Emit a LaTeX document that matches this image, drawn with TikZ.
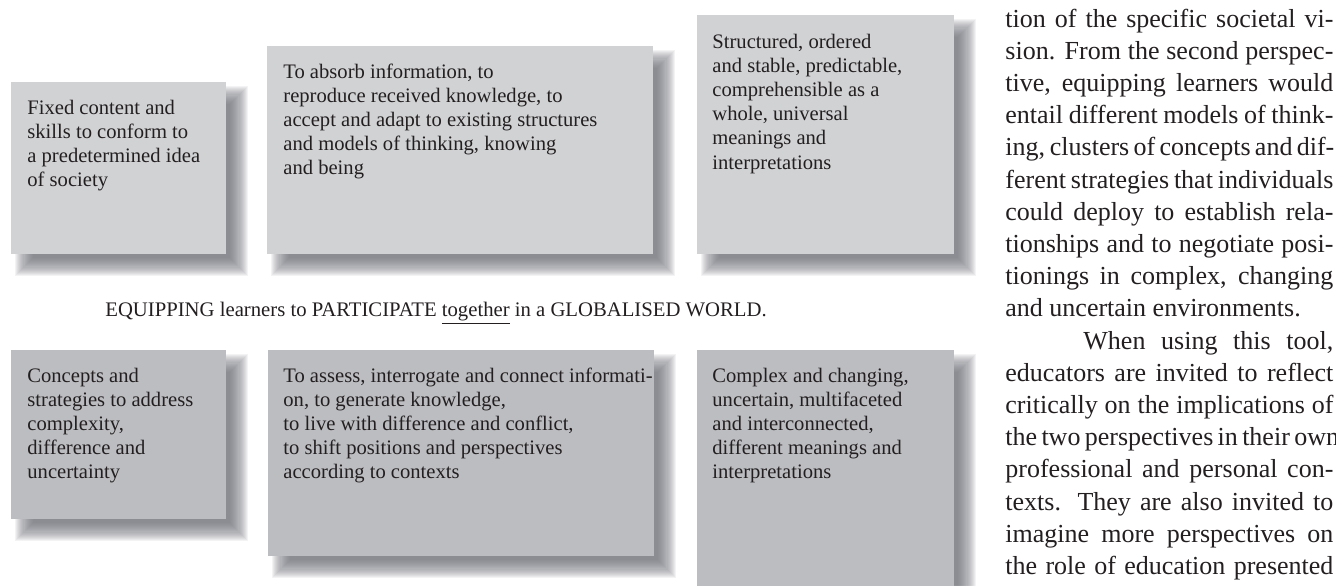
\documentclass[tikz,border=0pt]{standalone}
\usepackage{fontspec}
\setmainfont{Liberation Serif}
\pgfdeclarelayer{paper}
\pgfdeclarelayer{shade}
\pgfsetlayers{paper,shade,main}
\definecolor{boxtop}{RGB}{209,210,212}
\definecolor{boxbot}{RGB}{188,189,193}
\definecolor{shadowgray}{RGB}{112,114,121}
\definecolor{ink}{RGB}{35,31,32}
\tikzset{
  panel/.style={anchor=north west, inner sep=0pt, outer sep=0pt, draw=none},
  toppanel/.style={panel, fill=boxtop},
  botpanel/.style={panel, fill=boxbot},
  boxtext/.style={anchor=base west, inner sep=0pt, text=ink, font=\fontsize{10.3}{12.1}\selectfont},
  coltext/.style={anchor=base west, inner sep=0pt, text=ink, font=\fontsize{13}{16.1}\selectfont},
  headtext/.style={anchor=base west, inner sep=0pt, text=ink, font=\fontsize{10.35}{12.1}\selectfont},
}
\newcommand{\jline}[1]{\makebox[164pt][s]{#1}}
\newcommand{\boxpar}[1]{\parbox[t]{220pt}{\raggedright #1}}
\begin{document}
\begin{tikzpicture}[x=0.5pt,y=-0.5pt]
\useasboundingbox (0,0) rectangle (1336,585);
\clip (0,0) rectangle (1336,585);
\begin{pgfonlayer}{paper}
\fill[white] (0,0) rectangle (1336,585);
\end{pgfonlayer}

% panels
\node[toppanel, minimum width=107.5pt, minimum height=86pt]  (b1) at (11,82) {};
\node[toppanel, minimum width=193pt,   minimum height=104pt] (b2) at (267,46) {};
\node[toppanel, minimum width=128.5pt, minimum height=119.5pt] (b3) at (697,15) {};
\node[botpanel, minimum width=107.5pt, minimum height=84.5pt] (b4) at (11,350) {};
\node[botpanel, minimum width=193pt,   minimum height=103pt] (b5) at (268,350) {};
\node[botpanel, minimum width=128.5pt, minimum height=125pt] (b6) at (697,350) {};

% soft shadows (layered to fake a blur)
\begin{pgfonlayer}{shade}
\foreach \b in {b1,b2,b3,b4,b5,b6}{
  \foreach \i in {0,...,17}{
    \pgfmathsetmacro{\lo}{13-(9-18*\i/17)}
    \pgfmathsetmacro{\hi}{13+(9-18*\i/17)}
    \fill[shadowgray, opacity=0.08]
      ([shift={(\lo,\lo)}]\b.north west) rectangle ([shift={(\hi,\hi)}]\b.south east);
  }
}
\end{pgfonlayer}

% panel texts
\node[boxtext] (t1) at ([shift={(16,32)}]b1.north west) {\boxpar{Fixed content and\\ skills to conform to\\ a predetermined idea\\ of society}};
\node[boxtext] (t2) at ([shift={(16,32)}]b2.north west) {\boxpar{To absorb information, to\\ reproduce received knowledge, to\\ accept and adapt to existing structures\\ and models of thinking, knowing\\ and being}};
\node[boxtext] (t3) at ([shift={(15,33)}]b3.north west) {\boxpar{Structured, ordered\\ and stable, predictable,\\ comprehensible as a\\ whole, universal\\ meanings and\\ interpretations}};
\node[boxtext] (t4) at ([shift={(16,32)}]b4.north west) {\boxpar{Concepts and\\ strategies to address\\ complexity,\\ difference and\\ uncertainty}};
\node[boxtext] (t5) at ([shift={(15,32)}]b5.north west) {\boxpar{To assess, interrogate and connect informati-\\ on, to generate knowledge,\\ to live with difference and conflict,\\ to shift positions and perspectives\\ according to contexts}};
\node[boxtext] (t6) at ([shift={(15,32)}]b6.north west) {\boxpar{Complex and changing,\\ uncertain, multifaceted\\ and interconnected,\\ different meanings and\\ interpretations}};

% heading
\node[headtext] (head) at (105,316) {EQUIPPING learners to PARTICIPATE \underline{together} in a GLOBALISED WORLD.};

% body column
\node[coltext] (col) at (1005,27) {\parbox[t]{164pt}{%
\jline{tion of the specific societal vi-}\\
\jline{sion. From the second perspec-}\\
\jline{tive, equipping learners would}\\
\jline{entail different models of think-}\\
\jline{ing, clusters of concepts and dif-}\\
\jline{ferent strategies that individuals}\\
\jline{could deploy to establish rela-}\\
\jline{tionships and to negotiate posi-}\\
\jline{tionings in complex, changing}\\
and uncertain environments.\\
\jline{\hspace*{39pt}When using this tool,}\\
\jline{educators are invited to reflect}\\
\jline{critically on the implications of}\\
\jline{the two perspectives in their own}\\
\jline{professional and personal con-}\\
\jline{texts. They are also invited to}\\
\jline{imagine more perspectives on}\\
\jline{the role of education presented}}};
\end{tikzpicture}
\end{document}
